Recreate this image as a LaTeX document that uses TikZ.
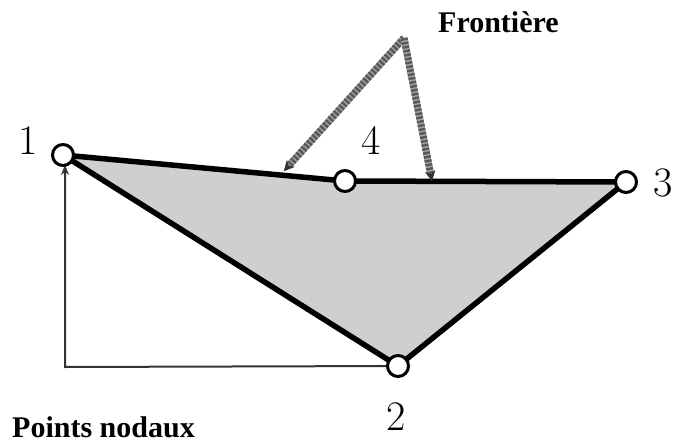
\documentclass[tikz,border=0pt]{standalone}
\usepackage{fontspec}
\newfontfamily\lblfont{Liberation Serif}
\usetikzlibrary{arrows.meta}
\begin{document}
\begin{tikzpicture}[x=1pt,y=-1pt,
  nodept/.style={circle,draw=black,fill=white,line width=3pt,minimum size=21pt,inner sep=0pt},
  numlbl/.style={font=\fontsize{42}{44}\selectfont,inner sep=0pt},
  txtlbl/.style={font=\lblfont\bfseries\fontsize{30}{32}\selectfont,inner sep=0pt,anchor=base west},
  edge/.style={line width=5.5pt,line join=round},
  front/.style={line width=7pt,draw=black!65,dash pattern=on 2.5pt off 1.5pt,
    preaction={draw=gray!70,line width=7pt},-{Stealth[length=10pt,width=10pt,fill=black!80,line width=0pt]}},
  nodal/.style={line width=2pt,draw=black!80,-{Stealth[length=10pt,width=8pt]}}
]
\useasboundingbox (0,0) rectangle (676,443);
% polygon
\coordinate (p1) at (63,155);
\coordinate (p4) at (345,181);
\coordinate (p3) at (626,182);
\coordinate (p2) at (398,366);
\fill[gray!38] (p1) -- (p4) -- (p3) -- (p2) -- cycle;
\draw[edge] (p1) -- (p4) -- (p3) -- (p2) -- cycle;
% nodal arrow
\coordinate (corner) at (65,367);
\draw[nodal] (p2) -- (corner) -- (65,165);
% boundary arrows
\coordinate (ftop) at (404,38);
\coordinate (fa) at (284,171);
\coordinate (fb) at (432,181);
\draw[front] (ftop) -- (fa);
\draw[front] (ftop) -- (fb);
% node circles
\node[nodept] (n1) at (p1) {};
\node[nodept] (n4) at (p4) {};
\node[nodept] (n3) at (p3) {};
\node[nodept] (n2) at (p2) {};
% labels
\node[numlbl] (l1) at (28,141) {1};
\node[numlbl] (l4) at (371,140) {4};
\node[numlbl] (l3) at (663,183) {3};
\node[numlbl] (l2) at (396,417) {2};
\node[txtlbl] (tf) at (438,33) {Frontière};
\node[txtlbl] (tp) at (12,437) {Points nodaux};
\end{tikzpicture}
\end{document}
